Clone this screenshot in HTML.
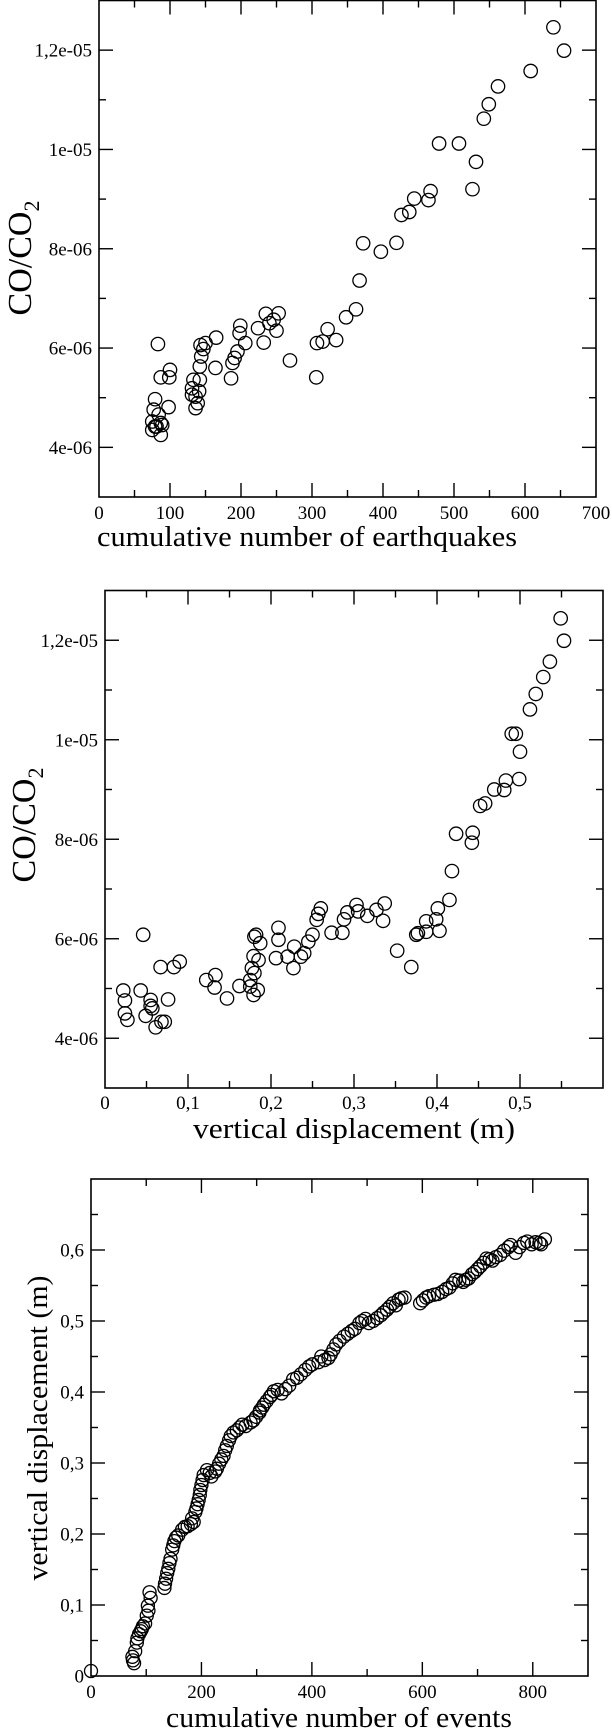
<!DOCTYPE html>
<html><head><meta charset="utf-8">
<style>
html,body{margin:0;padding:0;background:#fff;}
svg{display:block;}
text{font-family:"Liberation Serif",serif;}
</style></head>
<body>
<svg id="chart" width="612" height="1731" viewBox="0 0 612 1731" xmlns="http://www.w3.org/2000/svg" font-family="Liberation Serif, serif">
<rect width="612" height="1731" fill="#fff"/>
</svg>
<script>
// Panel 1: CO/CO2 (x1e-6) vs cumulative number of earthquakes
const p1Quakes = [640,655,608,562,549,542,479,507,531,526,467,464,444,437,426,419,397,372,367,362,348,334,322,315,307,306,269,253,250,246,240,235,232,224,206,199,198,195,191,188,186,165,164,150,147,144,142,142,141,139,136,133,131,136,131,143,100,99,98,87,83,79,77,75,75,79,84,87,87,89,81];
const p1Ratio = [12.46,11.99,11.58,11.27,10.91,10.62,10.12,10.12,9.75,9.20,9.16,8.98,9.01,8.74,8.68,8.12,7.94,8.11,7.36,6.78,6.62,6.16,6.38,6.13,6.10,5.41,5.75,6.70,6.35,6.57,6.50,6.69,6.11,6.40,6.10,6.45,6.30,5.93,5.80,5.70,5.39,6.21,5.60,6.10,5.98,5.83,5.63,5.36,5.13,4.89,5.02,5.36,5.19,4.79,5.06,6.06,5.56,5.41,4.81,5.41,6.08,4.97,4.76,4.52,4.35,4.42,4.66,4.49,4.25,4.45,4.42];
const p1XTicks = [0,100,200,300,400,500,600,700];
const p1YTicks = [4,6,8,10,12];
const p1YTickLabels = ["4e-06","6e-06","8e-06","1e-05","1,2e-05"];

// Panel 2: CO/CO2 (x1e-6) vs vertical displacement (m)
const p2Disp = [.549,.553,.536,.528,.519,.512,.490,.495,.500,.499,.483,.481,.469,.458,.452,.443,.442,.423,.418,.415,.401,.399,.403,.387,.387,.377,.375,.369,.352,.337,.335,.327,.316,.303,.305,.292,.288,.286,.273,.260,.257,.255,.250,.245,.240,.236,.228,.227,.220,.209,.209,.206,.187,.185,.182,.180,.179,.177,.180,.184,.179,.175,.175,.162,.147,.132,.133,.122,.090,.083,.067,.076,.072,.068,.061,.055,.057,.055,.049,.043,.046,.027,.024,.024,.022];
const p2Ratio = [12.44,11.99,11.57,11.26,10.92,10.61,10.12,10.12,9.76,9.21,9.18,8.99,9.00,8.72,8.67,8.13,7.93,8.11,7.36,6.78,6.61,6.39,6.16,6.35,6.14,6.11,6.08,5.43,5.76,6.71,6.36,6.58,6.46,6.68,6.55,6.53,6.39,6.12,6.12,6.61,6.50,6.38,6.08,5.94,5.71,5.64,5.84,5.41,5.64,6.22,5.98,5.61,5.91,5.57,6.08,6.04,5.65,5.41,5.31,4.97,4.87,5.04,5.17,5.05,4.80,5.02,5.27,5.17,5.54,5.43,5.43,4.78,4.33,4.33,4.22,4.77,4.60,4.65,4.45,4.96,6.08,4.37,4.50,4.76,4.96];
const p2XTicks = [0,0.1,0.2,0.3,0.4,0.5];
const p2XTickLabels = ["0","0,1","0,2","0,3","0,4","0,5"];
const p2YTicks = [4,6,8,10,12];
const p2YTickLabels = ["4e-06","6e-06","8e-06","1e-05","1,2e-05"];

// Panel 3: vertical displacement (m) vs cumulative number of events
const p3Events = [0,76,80,83,87,92,98,101,103,106,133,136,140,144,147,151,158,165,175,186,189,193,197,200,204,215,225,232,240,246,253,264,274,289,299,306,313,324,331,345,359,373,388,401,423,434,444,458,472,486,497,511,525,536,547,557,568,596,607,621,636,649,660,674,684,695,705,716,727,741,756,769,784,798,822,
75,84,94,108,134,142,154,181,191,198,218,236,250,269,294,310,327,352,380,412,439,465,491,518,541,562,601,628,655,679,700,722,748,776,805,815,
78,90,104,138,149,170,183,195,202,210,228,243,258,280,305,318,338,366,395,417,430,450,478,503,530,552,612,643,667,690,711,733,760,790,812];
const p3Disp = [.007,.022,.035,.047,.059,.066,.074,.085,.099,.118,.124,.137,.151,.165,.178,.190,.198,.206,.211,.217,.231,.242,.255,.269,.283,.286,.288,.299,.310,.324,.338,.346,.354,.357,.365,.374,.382,.393,.401,.398,.409,.420,.431,.439,.445,.453,.467,.478,.486,.497,.503,.500,.508,.516,.525,.530,.533,.525,.533,.537,.541,.547,.558,.555,.560,.569,.577,.588,.585,.593,.604,.596,.610,.608,.615,
.027,.053,.070,.110,.130,.159,.195,.214,.236,.262,.281,.305,.332,.350,.360,.378,.396,.404,.425,.442,.460,.482,.500,.504,.520,.532,.529,.538,.553,.558,.573,.587,.599,.604,.611,.608,
.018,.063,.092,.145,.184,.210,.222,.248,.276,.290,.292,.318,.343,.352,.371,.387,.403,.418,.436,.450,.448,.472,.489,.497,.512,.522,.535,.545,.557,.566,.582,.590,.607,.612,.610];
const p3XTicks = [0,200,400,600,800];
const p3YTicks = [0,0.1,0.2,0.3,0.4,0.5,0.6];
const p3YTickLabels = ["0","0,1","0,2","0,3","0,4","0,5","0,6"];

const NS = "http://www.w3.org/2000/svg";
const svg = document.getElementById('chart');
function mk(tag, attrs, parent){
  const e = document.createElementNS(NS, tag);
  for (const k in attrs) e.setAttribute(k, attrs[k]);
  (parent||svg).appendChild(e);
  return e;
}

function panel(cfg){
  const g = mk('g', {});
  
  
  const L=cfg.left, R=cfg.right, T=cfg.top, B=cfg.bottom;
  const sx = v => L + (v - cfg.xmin) / (cfg.xmax - cfg.xmin) * (R - L);
  const sy = v => B - (v - cfg.ymin) / (cfg.ymax - cfg.ymin) * (B - T);
  const frame = mk('rect', {x:L, y:T, width:R-L, height:B-T, fill:'none', stroke:'#000', 'stroke-width':1.6}, g);
  
  
  const tg = mk('g', {stroke:'#000','stroke-width':1.4}, g);
  
  
  for (let v = cfg.xmin; v <= cfg.xmax + 1e-9; v += cfg.xminor){
    const isMajor = Math.abs(Math.round(v / cfg.xmajor) * cfg.xmajor - v) < 1e-9;
    const len = isMajor ? 14 : 7;
    const x = sx(v);
    if (x <= L + 1 || x >= R - 1) continue;
    mk('line', {x1:x, y1:B, x2:x, y2:B-len}, tg);
    mk('line', {x1:x, y1:T, x2:x, y2:T+len}, tg);
  }
  for (let v = cfg.ymin; v <= cfg.ymax + 1e-9; v += cfg.yminor){
    const isMajor = Math.abs(Math.round(v / cfg.ymajor) * cfg.ymajor - v) < 1e-9;
    const len = isMajor ? 14 : 7;
    const y = sy(v);
    if (y <= T + 1 || y >= B - 1) continue;
    mk('line', {x1:L, y1:y, x2:L+len, y2:y}, tg);
    mk('line', {x1:R, y1:y, x2:R-len, y2:y}, tg);
  }
  cfg.xTicks.forEach((v, i) => {
    const t = mk('text', {x:sx(v), y:cfg.xLabelY, 'font-size':19, 'font-family':'Liberation Serif, serif', 'text-anchor':'middle', fill:'#000'}, g);
    t.textContent = cfg.xTickLabels[i];
    
    
  });
  cfg.yTicks.forEach((v, i) => {
    const t = mk('text', {x:L-7, y:sy(v)+6.5, 'font-size':19, 'font-family':'Liberation Serif, serif', 'text-anchor':'end', fill:'#000'}, g);
    t.textContent = cfg.yTickLabels[i];
    
    
  });
  const pg = mk('g', {fill:'none', stroke:'#000', 'stroke-width':1.3}, g);
  
  
  cfg.xs.forEach((xv, i) => {
    const c = mk('circle', {cx:sx(xv), cy:sy(cfg.ys[i]), r:cfg.r}, pg);
    
    
  });
  return g;
}

panel({name:'panel-ratio-vs-earthquakes', left:99, right:596, top:0.5, bottom:497,
  xmin:0, xmax:700, ymin:3, ymax:13, xmajor:100, xminor:50, ymajor:2, yminor:1,
  xTicks:p1XTicks, xTickLabels:p1XTicks.map(String), yTicks:p1YTicks, yTickLabels:p1YTickLabels,
  xLabelY:519, xs:p1Quakes, ys:p1Ratio, r:6.7});
panel({name:'panel-ratio-vs-displacement', left:105, right:603, top:590.5, bottom:1088,
  xmin:0, xmax:0.6, ymin:3, ymax:13, xmajor:0.1, xminor:0.05, ymajor:2, yminor:1,
  xTicks:p2XTicks, xTickLabels:p2XTickLabels, yTicks:p2YTicks, yTickLabels:p2YTickLabels,
  xLabelY:1109, xs:p2Disp, ys:p2Ratio, r:6.7});
panel({name:'panel-displacement-vs-events', left:91, right:588, top:1179, bottom:1676,
  xmin:0, xmax:900, ymin:0, ymax:0.7, xmajor:200, xminor:100, ymajor:0.1, yminor:0.05,
  xTicks:p3XTicks, xTickLabels:p3XTicks.map(String), yTicks:p3YTicks, yTickLabels:p3YTickLabels,
  xLabelY:1698, xs:p3Events, ys:p3Disp, r:6.5});
</script>
<svg style="position:absolute;left:0;top:0" width="612" height="1731" font-family="Liberation Serif, serif">
  <text x="307" y="546" font-size="28" text-anchor="middle" textLength="420" lengthAdjust="spacingAndGlyphs">cumulative number of earthquakes</text>
  <text transform="translate(31,258) rotate(-90)" font-size="34" text-anchor="middle">CO/CO<tspan font-size="22" dy="8">2</tspan></text>
  <text x="354" y="1138" font-size="28" text-anchor="middle" textLength="322" lengthAdjust="spacingAndGlyphs">vertical displacement (m)</text>
  <text transform="translate(35,825) rotate(-90)" font-size="34" text-anchor="middle">CO/CO<tspan font-size="22" dy="8">2</tspan></text>
  <text transform="translate(47,1428) rotate(-90)" font-size="28" text-anchor="middle" textLength="305" lengthAdjust="spacingAndGlyphs">vertical displacement (m)</text>
  <text x="339" y="1727" font-size="28" text-anchor="middle" textLength="346" lengthAdjust="spacingAndGlyphs">cumulative number of events</text>
</svg>
</body></html>
